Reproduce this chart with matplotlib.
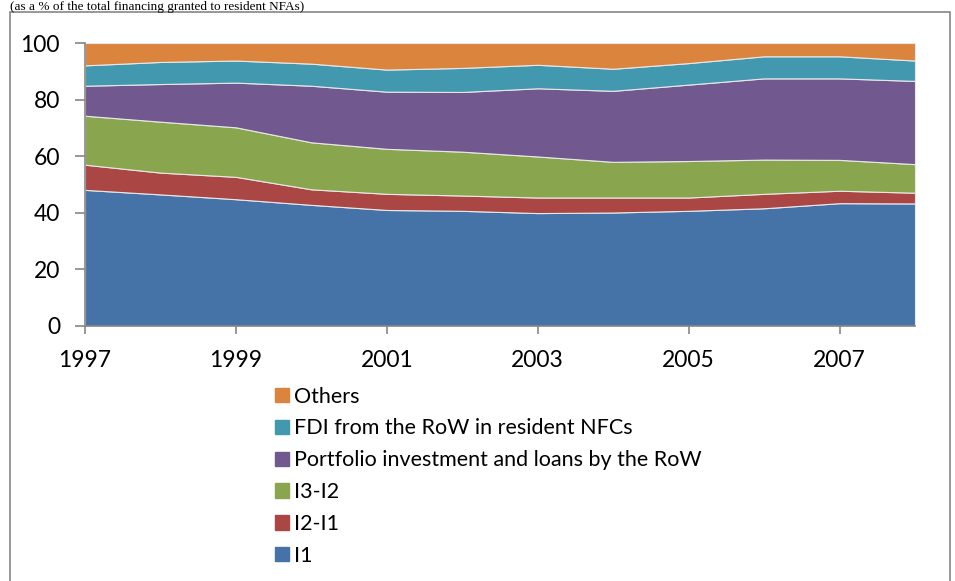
import matplotlib
matplotlib.use("Agg")
import matplotlib.pyplot as plt
import matplotlib.patches as mpatches
import numpy as np

years = [1997, 1998, 1999, 2000, 2001, 2002, 2003, 2004, 2005, 2006, 2007, 2008]
# cumulative tops
top_i1 = [48.1, 46.5, 44.8, 42.8, 41.0, 40.7, 39.9, 40.1, 40.7, 41.6, 43.4, 43.3]
top_i2 = [57.0, 54.2, 52.7, 48.3, 46.7, 46.1, 45.4, 45.4, 45.4, 46.7, 47.8, 47.1]
top_i3 = [74.3, 72.2, 70.2, 64.9, 62.6, 61.6, 59.9, 58.0, 58.3, 58.8, 58.7, 57.2]
top_port = [84.9, 85.5, 86.0, 84.9, 82.8, 82.7, 84.0, 83.1, 85.3, 87.5, 87.5, 86.6]
top_fdi = [92.1, 93.3, 93.8, 92.7, 90.6, 91.2, 92.3, 90.9, 92.9, 95.3, 95.3, 93.8]
top_all = [100.0] * 12

i1 = np.array(top_i1)
i2_i1 = np.array(top_i2) - np.array(top_i1)
i3_i2 = np.array(top_i3) - np.array(top_i2)
port = np.array(top_port) - np.array(top_i3)
fdi = np.array(top_fdi) - np.array(top_port)
others = np.array(top_all) - np.array(top_fdi)

labels = ["I1", "I2-I1", "I3-I2", "Portfolio investment and loans by the RoW",
          "FDI from the RoW in resident NFCs", "Others"]
colors = ["#4572A7", "#AA4643", "#89A54E", "#71588F", "#4198AF", "#DB843D"]
xticks = [1997, 1999, 2001, 2003, 2005, 2007]
yticks = [0, 20, 40, 60, 80, 100]

plt.rcParams['font.family'] = ['Lato', 'DejaVu Sans']

fig = plt.figure(figsize=(9.55, 5.81), dpi=100)
ax = fig.add_axes([85/955, 1-326/581, 830/955, 283/581])

polys = ax.stackplot(years, i1, i2_i1, i3_i2, port, fdi, others,
                     colors=colors, labels=labels,
                     edgecolor="#e8e8e8", linewidth=0.8)

ax.set_xlim(1997, 2008)
ax.set_ylim(0, 100)
ax.set_xticks(xticks)
ax.set_xticklabels([str(t) for t in xticks])
ax.set_yticks(yticks)
for s in ["top", "right"]:
    ax.spines[s].set_visible(False)
for s in ["left", "bottom"]:
    ax.spines[s].set_color("#868686")
    ax.spines[s].set_linewidth(1.2)
ax.tick_params(axis="y", direction="out", length=7, width=1.2, color="#868686",
               labelsize=16.5, pad=11)
ax.tick_params(axis="x", direction="out", length=6, width=1.2, color="#868686",
               labelsize=16.5, pad=11)

handles = [mpatches.Patch(color=c) for c in colors][::-1]
fig.legend(handles, labels[::-1], loc="upper left",
           bbox_to_anchor=(266/955, 1-378/581), frameon=False,
           fontsize=15.5, handlelength=0.65, handleheight=0.65,
           handletextpad=0.25, labelspacing=0.55, borderaxespad=0)

# outer chart frame
fig.add_artist(mpatches.Rectangle((10/955, -0.01), 940/955, 1-12/581+0.01,
                                  transform=fig.transFigure, fill=False,
                                  edgecolor="#868686", linewidth=1.2))

fig.text(10/955, 1-1/581, "(as a % of the total financing granted to resident NFAs)",
         family="Liberation Serif", fontsize=9.5, va="top", ha="left")

fig.savefig("out.png", dpi=100)
